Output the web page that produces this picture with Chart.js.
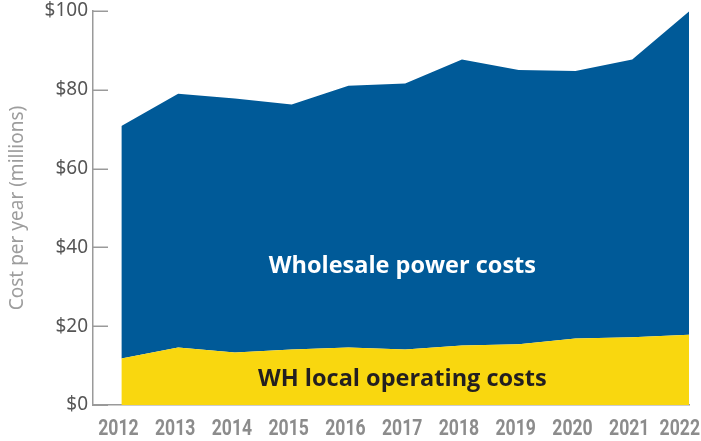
<!DOCTYPE html>
<html>
<head>
<meta charset="utf-8">
<script src="https://cdn.jsdelivr.net/npm/chart.js@4/dist/chart.umd.min.js"></script>
<style>
  html, body { margin: 0; padding: 0; background: #fff; }
  #wrap { width: 701px; height: 441px; }
</style>
</head>
<body>
<div id="wrap"><canvas id="costChart" width="701" height="441"></canvas></div>
<script>
// values, $ millions
var years = [2012, 2013, 2014, 2015, 2016, 2017, 2018, 2019, 2020, 2021, 2022]
var localCosts = [11.8, 14.6, 13.3, 14.1, 14.6, 14.1, 15.1, 15.4, 16.9, 17.2, 17.8]
var totalCosts = [70.8, 79.0, 77.8, 76.3, 81.0, 81.6, 87.7, 85.0, 84.8, 87.7, 99.9]
var yTicks = [0, 20, 40, 60, 80, 100]

var BLUE = '#005a98'
var YELLOW = '#f9d70f'
var AXIS = '#9a9a9a'

// in-area labels (text anchored at a year / value)
var wholesaleLabel = { text: 'Wholesale power costs', year: 2016.95, value: 35.2, color: '#ffffff' }
var localLabel = { text: 'WH local operating costs', year: 2016.95, value: 6.4, color: '#231f20' }

function toPoints(vals) {
  return years.map((yr, i) => ({ x: yr, y: vals[i] }))
}

const extras = {
  id: 'extras',
  afterDraw(chart) {
    const ctx = chart.ctx
    const ys = chart.scales.y
    const xs = chart.scales.x
    const area = chart.chartArea
    ctx.save()
    // short inward ticks on the y axis
    ctx.strokeStyle = AXIS
    ctx.lineWidth = 1.5
    yTicks.forEach((v) => {
      const py = Math.round(ys.getPixelForValue(v)) + 0.25
      ctx.beginPath()
      ctx.moveTo(area.left, py)
      ctx.lineTo(area.left + 15, py)
      ctx.stroke()
    })
    // condensed bold year labels
    ctx.fillStyle = '#8c8c8c'
    ctx.textAlign = 'center'
    ctx.textBaseline = 'alphabetic'
    ctx.font = 'bold 22px Roboto, sans-serif'
    years.forEach((yr) => {
      const w = ctx.measureText(String(yr)).width * 0.8
      let px = xs.getPixelForValue(yr) - 3
      px = Math.min(px, chart.width - 1 - w / 2)
      ctx.save()
      ctx.translate(px, area.bottom + 30)
      ctx.scale(0.8, 1)
      ctx.fillText(String(yr), 0, 0)
      ctx.restore()
    })
    // area labels
    ctx.textAlign = 'center'
    ctx.textBaseline = 'middle'
    ctx.font = 'bold 23.5px "Open Sans", "Noto Sans", sans-serif'
    ;[wholesaleLabel, localLabel].forEach((lb) => {
      ctx.fillStyle = lb.color
      ctx.fillText(lb.text, xs.getPixelForValue(lb.year), ys.getPixelForValue(lb.value))
    })
    ctx.restore()
  },
}

const ctx = document.getElementById('costChart').getContext('2d')
const myChart = new Chart(ctx, {
  type: 'line',
  data: {
    datasets: [
      {
        label: 'WH local operating costs',
        data: toPoints(localCosts),
        backgroundColor: YELLOW,
        borderWidth: 0,
        pointRadius: 0,
        tension: 0,
        fill: 'origin',
      },
      {
        label: 'Wholesale power costs',
        data: toPoints(totalCosts),
        backgroundColor: BLUE,
        borderWidth: 0,
        pointRadius: 0,
        tension: 0,
        fill: '-1',
      },
    ],
  },
  options: {
    responsive: false,
    animation: false,
    events: [],
    layout: { padding: { top: 11, right: 12, left: 0, bottom: 0 } },
    plugins: {
      legend: { display: false },
      tooltip: { enabled: false },
    },
    scales: {
      x: {
        type: 'linear',
        min: 2011.5,
        max: 2022,
        afterBuildTicks: (scale) => {
          scale.ticks = years.map((v) => ({ value: v }))
        },
        afterFit: (scale) => {
          scale.height = 36
          scale.paddingLeft = 0
          scale.paddingRight = 0
        },
        grid: { display: false, drawTicks: false },
        border: { display: true, color: AXIS, width: 1.5 },
        ticks: { display: false },
      },
      y: {
        min: 0,
        max: 100,
        afterBuildTicks: (scale) => {
          scale.ticks = yTicks.map((v) => ({ value: v }))
        },
        afterFit: (scale) => {
          scale.width = 93
          scale.paddingTop = 0
          scale.paddingBottom = 0
        },
        grid: { display: false, drawTicks: false },
        border: { display: true, color: AXIS, width: 1.5 },
        ticks: {
          padding: 5,
          color: '#555555',
          font: { family: '"Noto Sans", sans-serif', size: 19 },
          callback: (v) => '$' + v,
        },
        title: {
          display: true,
          text: 'Cost per year (millions)',
          color: '#9d9d9d',
          font: { family: '"Noto Sans", sans-serif', size: 19 },
          padding: { top: 6, bottom: 0 },
        },
      },
    },
  },
  plugins: [extras],
})
</script>
</body>
</html>
